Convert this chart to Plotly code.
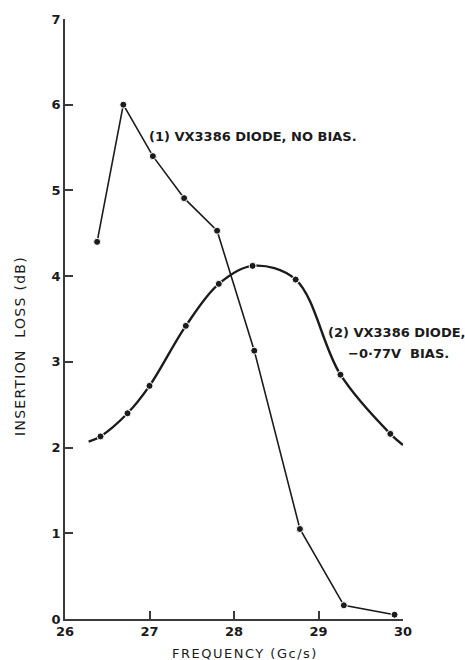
import plotly.graph_objects as go

# Curve (1): VX3386 diode, no bias (straight segments between readings)
s1_freq = [26.38, 26.69, 27.04, 27.41, 27.80, 28.24, 28.78, 29.30, 29.90]
s1_loss = [4.40, 6.00, 5.40, 4.91, 4.53, 3.13, 1.05, 0.16, 0.05]

# Curve (2): VX3386 diode, -0.77 V bias (smooth curve through readings)
s2_freq = [26.42, 26.74, 27.00, 27.43, 27.82, 28.22, 28.73, 29.26, 29.85]
s2_loss = [2.13, 2.40, 2.72, 3.42, 3.91, 4.12, 3.96, 2.85, 2.16]
# faired curve continues a little past the first and last readings
s2_lead = (26.28, 2.07)
s2_tail = (30.0, 2.03)

x_ticks = [26, 27, 28, 29, 30]
y_ticks = [0, 1, 2, 3, 4, 5, 6, 7]

INK = "#1b1b1b"
AXIS = "#3a3a3a"
FONT = "DejaVu Sans"

fig = go.Figure()

# curve (2) faired line
fig.add_trace(go.Scatter(
    x=[s2_lead[0]] + s2_freq + [s2_tail[0]],
    y=[s2_lead[1]] + s2_loss + [s2_tail[1]],
    mode="lines",
    line=dict(color=INK, width=2.4, shape="spline", smoothing=1.0),
    hoverinfo="skip",
    showlegend=False,
))
# curve (1) joined points
fig.add_trace(go.Scatter(
    x=s1_freq, y=s1_loss,
    mode="lines+markers",
    line=dict(color=INK, width=1.6),
    marker=dict(size=7, color=INK, line=dict(color="white", width=1)),
    showlegend=False,
))
# curve (2) measured points
fig.add_trace(go.Scatter(
    x=s2_freq, y=s2_loss,
    mode="markers",
    marker=dict(size=7, color=INK, line=dict(color="white", width=1)),
    showlegend=False,
))

# curve labels (data coordinates)
curve_labels = [
    dict(x=26.97, y=5.63, text="(1) VX3386 DIODE, NO BIAS."),
    dict(x=29.09, y=3.34, text="(2) VX3386 DIODE,"),
    dict(x=29.33, y=3.10, text="\u22120\u00b777V  BIAS."),
]
for a in curve_labels:
    fig.add_annotation(**a, xref="x", yref="y", showarrow=False,
                       xanchor="left", yanchor="middle",
                       font=dict(family=FONT, size=13, color=INK, weight="bold"))

# axis titles (paper coordinates), letter-spaced
fig.add_annotation(x=-0.133, y=0.455, xref="paper", yref="paper",
                   text='<span style="letter-spacing:1.3px">INSERTION  LOSS (dB)</span>',
                   textangle=-90, showarrow=False,
                   xanchor="center", yanchor="middle",
                   font=dict(family=FONT, size=14, color=INK))
fig.add_annotation(x=0.533, y=-0.057, xref="paper", yref="paper",
                   text='<span style="letter-spacing:1.5px">FREQUENCY (Gc/s)</span>',
                   showarrow=False,
                   xanchor="center", yanchor="middle",
                   font=dict(family=FONT, size=13, color=INK))

fig.update_layout(
    width=465, height=660,
    margin=dict(l=65, r=62, t=19, b=41),
    paper_bgcolor="white", plot_bgcolor="white",
    font=dict(family=FONT, color=INK),
)
fig.update_xaxes(
    range=[26, 30], tickvals=x_ticks, ticktext=[str(v) for v in x_ticks],
    showgrid=False, zeroline=False, showline=True, linecolor=AXIS, linewidth=1.6,
    ticks="inside", ticklen=8, tickwidth=1.5, tickcolor=AXIS,
    tickfont=dict(family=FONT, size=13, color=INK, weight="bold"),
)
fig.update_yaxes(
    range=[0, 7], tickvals=y_ticks, ticktext=[str(v) for v in y_ticks],
    showgrid=False, zeroline=False, showline=True, linecolor=AXIS, linewidth=1.6,
    ticks="inside", ticklen=8, tickwidth=1.5, tickcolor=AXIS,
    tickfont=dict(family=FONT, size=13, color=INK, weight="bold"),
)

fig.write_html("out.html")
